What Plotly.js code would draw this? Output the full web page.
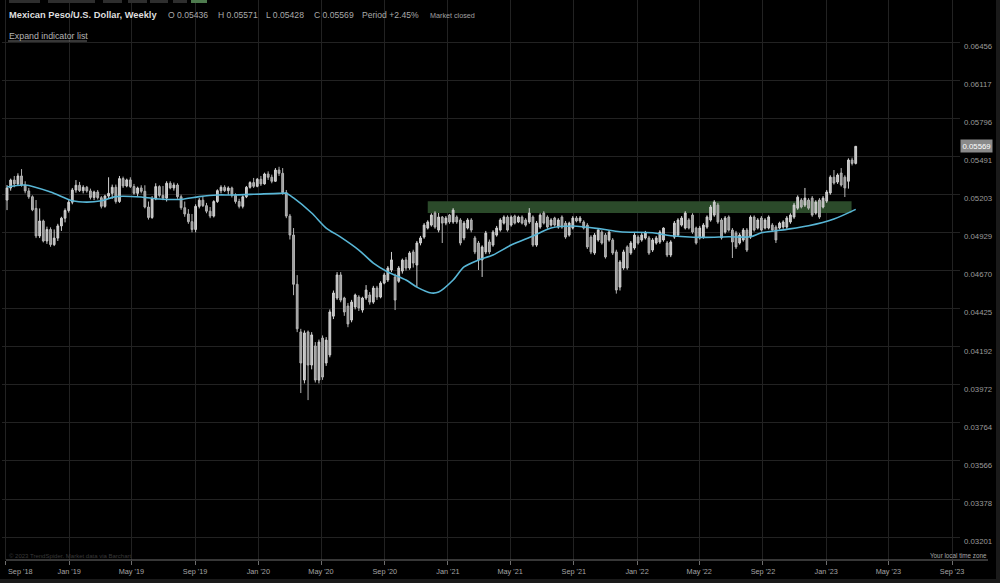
<!DOCTYPE html>
<html><head><meta charset="utf-8">
<script src="https://cdn.plot.ly/plotly-3.0.1.min.js"></script>
<style>
html,body{margin:0;padding:0;background:#1a1a1a;width:1000px;height:583px;overflow:hidden;}
#chart{position:absolute;left:0;top:0;width:996px;height:579px;background:#000;}
</style></head><body><div id="chart"></div>
<script>
// ---------------- DATA ----------------
const weeks = [
'2018-09-03','2018-09-10','2018-09-17','2018-09-24','2018-10-01','2018-10-08','2018-10-15','2018-10-22','2018-10-29','2018-11-05','2018-11-12','2018-11-19','2018-11-26','2018-12-03','2018-12-10','2018-12-17','2018-12-24','2018-12-31',
'2019-01-07','2019-01-14','2019-01-21','2019-01-28','2019-02-04','2019-02-11','2019-02-18','2019-02-25','2019-03-04','2019-03-11','2019-03-18','2019-03-25','2019-04-01','2019-04-08','2019-04-15','2019-04-22','2019-04-29','2019-05-06','2019-05-13','2019-05-20','2019-05-27','2019-06-03','2019-06-10','2019-06-17','2019-06-24','2019-07-01','2019-07-08','2019-07-15','2019-07-22','2019-07-29','2019-08-05','2019-08-12','2019-08-19','2019-08-26','2019-09-02','2019-09-09','2019-09-16','2019-09-23','2019-09-30','2019-10-07','2019-10-14','2019-10-21','2019-10-28','2019-11-04','2019-11-11','2019-11-18','2019-11-25','2019-12-02','2019-12-09','2019-12-16','2019-12-23','2019-12-30',
'2020-01-06','2020-01-13','2020-01-20','2020-01-27','2020-02-03','2020-02-10','2020-02-17','2020-02-24','2020-03-02','2020-03-09','2020-03-16','2020-03-23','2020-03-30','2020-04-06','2020-04-13','2020-04-20','2020-04-27','2020-05-04','2020-05-11','2020-05-18','2020-05-25','2020-06-01','2020-06-08','2020-06-15','2020-06-22','2020-06-29','2020-07-06','2020-07-13','2020-07-20','2020-07-27','2020-08-03','2020-08-10','2020-08-17','2020-08-24','2020-08-31','2020-09-07','2020-09-14','2020-09-21','2020-09-28','2020-10-05','2020-10-12','2020-10-19','2020-10-26','2020-11-02','2020-11-09','2020-11-16','2020-11-23','2020-11-30','2020-12-07','2020-12-14','2020-12-21','2020-12-28',
'2021-01-04','2021-01-11','2021-01-18','2021-01-25','2021-02-01','2021-02-08','2021-02-15','2021-02-22','2021-03-01','2021-03-08','2021-03-15','2021-03-22','2021-03-29','2021-04-05','2021-04-12','2021-04-19','2021-04-26','2021-05-03','2021-05-10','2021-05-17','2021-05-24','2021-05-31','2021-06-07','2021-06-14','2021-06-21','2021-06-28','2021-07-05','2021-07-12','2021-07-19','2021-07-26','2021-08-02','2021-08-09','2021-08-16','2021-08-23','2021-08-30','2021-09-06','2021-09-13','2021-09-20','2021-09-27','2021-10-04','2021-10-11','2021-10-18','2021-10-25','2021-11-01','2021-11-08','2021-11-15','2021-11-22','2021-11-29','2021-12-06','2021-12-13','2021-12-20','2021-12-27',
'2022-01-03','2022-01-10','2022-01-17','2022-01-24','2022-01-31','2022-02-07','2022-02-14','2022-02-21','2022-02-28','2022-03-07','2022-03-14','2022-03-21','2022-03-28','2022-04-04','2022-04-11','2022-04-18','2022-04-25','2022-05-02','2022-05-09','2022-05-16','2022-05-23','2022-05-30','2022-06-06','2022-06-13','2022-06-20','2022-06-27','2022-07-04','2022-07-11','2022-07-18','2022-07-25','2022-08-01','2022-08-08','2022-08-15','2022-08-22','2022-08-29','2022-09-05','2022-09-12','2022-09-19','2022-09-26','2022-10-03','2022-10-10','2022-10-17','2022-10-24','2022-10-31','2022-11-07','2022-11-14','2022-11-21','2022-11-28','2022-12-05','2022-12-12','2022-12-19','2022-12-26',
'2023-01-02','2023-01-09','2023-01-16','2023-01-23','2023-01-30','2023-02-06','2023-02-13','2023-02-20','2023-02-27'
];

const openV = [
0.05161,0.05250,0.05309,0.05280,0.05340,0.05272,0.05228,0.05185,0.05100,0.04905,
0.05010,0.04870,0.04950,0.04845,0.04890,0.04975,0.05030,0.05085,0.05145,0.05235,
0.05270,0.05230,0.05255,0.05228,0.05180,0.05220,0.05178,0.05115,0.05190,0.05210,
0.05255,0.05150,0.05320,0.05265,0.05310,0.05260,0.05210,0.05250,0.05225,0.05110,
0.05035,0.05170,0.05260,0.05195,0.05175,0.05285,0.05250,0.05272,0.05185,0.05105,
0.05060,0.05005,0.04950,0.05115,0.05160,0.05120,0.05080,0.05045,0.05150,0.05230,
0.05255,0.05230,0.05250,0.05195,0.05150,0.05115,0.05185,0.05255,0.05290,0.05262,
0.05315,0.05280,0.05355,0.05330,0.05300,0.05385,0.05360,0.05215,0.05045,0.04911,
0.04580,0.04281,0.03999,0.04281,0.04085,0.04197,0.03999,0.04244,0.04097,0.04144,
0.04378,0.04492,0.04641,0.04492,0.04441,0.04354,0.04435,0.04498,0.04416,0.04492,
0.04511,0.04466,0.04556,0.04498,0.04588,0.04608,0.04674,0.04628,0.04600,0.04667,
0.04741,0.04687,0.04795,0.04707,0.04856,0.04897,0.04960,0.04981,0.05067,0.04946,
0.05038,0.04995,0.05052,0.05003,0.05038,0.05017,0.04891,0.04960,0.05017,0.04891,
0.04856,0.04741,0.04795,0.04863,0.04842,0.04911,0.04946,0.04995,0.05038,0.04981,
0.05045,0.05003,0.05038,0.05017,0.05003,0.05038,0.04842,0.04967,0.05067,0.05038,
0.04981,0.05031,0.04967,0.05038,0.04995,0.04911,0.04960,0.05031,0.05010,0.05003,
0.04981,0.04897,0.04788,0.04877,0.04932,0.04911,0.04877,0.04877,0.04795,0.04562,
0.04687,0.04829,0.04788,0.04822,0.04897,0.04877,0.04891,0.04891,0.04808,0.04856,
0.04863,0.04877,0.04856,0.04774,0.04897,0.04911,0.04981,0.04960,0.05017,0.05052,
0.04960,0.04891,0.04897,0.04967,0.05017,0.05052,0.05124,0.05017,0.04932,0.05038,
0.04946,0.04925,0.04856,0.04877,0.04946,0.04897,0.05038,0.04960,0.05031,0.04960,
0.04960,0.04981,0.04967,0.04960,0.04967,0.04967,0.05003,0.05038,0.05102,0.05161,
0.05124,0.05161,0.05175,0.05067,0.05161,0.05110,0.05153,0.05213,0.05331,0.05294,
0.05362,0.05331,0.05300,0.05462,0.05436
];
const highV = [
0.05272,0.05320,0.05340,0.05360,0.05392,0.05300,0.05250,0.05195,0.05161,0.05100,
0.05020,0.04970,0.04965,0.04950,0.04990,0.05040,0.05100,0.05160,0.05250,0.05309,
0.05295,0.05270,0.05265,0.05245,0.05230,0.05235,0.05190,0.05200,0.05330,0.05275,
0.05275,0.05340,0.05335,0.05320,0.05330,0.05280,0.05260,0.05270,0.05270,0.05150,
0.05190,0.05285,0.05270,0.05265,0.05300,0.05300,0.05290,0.05285,0.05200,0.05150,
0.05095,0.05060,0.05130,0.05175,0.05185,0.05140,0.05110,0.05160,0.05240,0.05270,
0.05270,0.05262,0.05260,0.05210,0.05170,0.05195,0.05265,0.05300,0.05325,0.05325,
0.05340,0.05365,0.05375,0.05350,0.05400,0.05410,0.05400,0.05235,0.05060,0.04960,
0.04640,0.04300,0.04290,0.04290,0.04280,0.04220,0.04235,0.04260,0.04250,0.04420,
0.04540,0.04660,0.04660,0.04500,0.04460,0.04480,0.04520,0.04510,0.04500,0.04575,
0.04530,0.04570,0.04570,0.04600,0.04655,0.04700,0.04795,0.04650,0.04700,0.04750,
0.04760,0.04800,0.04810,0.04870,0.04905,0.04995,0.05015,0.05065,0.05080,0.05067,
0.05045,0.05045,0.05060,0.05102,0.05050,0.05030,0.05010,0.05030,0.05030,0.04905,
0.04870,0.04840,0.04940,0.04880,0.04945,0.04975,0.05030,0.05050,0.05050,0.05050,
0.05055,0.05048,0.05050,0.05030,0.05102,0.05050,0.05010,0.05065,0.05080,0.05050,
0.05030,0.05040,0.05030,0.05050,0.05010,0.05005,0.05045,0.05045,0.05045,0.05015,
0.04995,0.04910,0.04925,0.04960,0.04945,0.04925,0.04945,0.04890,0.04810,0.04740,
0.04810,0.04840,0.04870,0.04925,0.04910,0.04925,0.04940,0.04905,0.04890,0.04905,
0.04945,0.04965,0.04870,0.04875,0.05010,0.05030,0.05045,0.05080,0.05030,0.05065,
0.04970,0.04975,0.04995,0.05050,0.05125,0.05160,0.05140,0.05030,0.05045,0.05050,
0.04960,0.04940,0.04925,0.04960,0.04960,0.05050,0.05050,0.05030,0.05045,0.05030,
0.05050,0.04995,0.04980,0.05005,0.05015,0.05045,0.05065,0.05140,0.05195,0.05175,
0.05250,0.05175,0.05190,0.05160,0.05175,0.05190,0.05235,0.05345,0.05385,0.05360,
0.05400,0.05345,0.05475,0.05480,0.05571
];
const lowV = [
0.05088,0.05230,0.05255,0.05265,0.05260,0.05210,0.05170,0.05080,0.04890,0.04890,
0.04860,0.04850,0.04830,0.04835,0.04870,0.04940,0.05000,0.05070,0.05130,0.05215,
0.05220,0.05210,0.05215,0.05165,0.05160,0.05165,0.05100,0.05105,0.05170,0.05170,
0.05135,0.05140,0.05250,0.05255,0.05250,0.05200,0.05185,0.05210,0.05100,0.05020,
0.05025,0.05160,0.05180,0.05160,0.05150,0.05240,0.05230,0.05170,0.05090,0.05040,
0.04990,0.04930,0.04930,0.05100,0.05110,0.05065,0.05030,0.05035,0.05140,0.05210,
0.05220,0.05200,0.05180,0.05135,0.05100,0.05100,0.05175,0.05245,0.05250,0.05255,
0.05265,0.05275,0.05310,0.05285,0.05295,0.05340,0.05200,0.05030,0.04880,0.04510,
0.04280,0.03926,0.03980,0.03887,0.04060,0.03985,0.03980,0.04000,0.04080,0.04130,
0.04360,0.04480,0.04465,0.04380,0.04310,0.04340,0.04420,0.04410,0.04400,0.04480,
0.04450,0.04455,0.04480,0.04490,0.04580,0.04595,0.04660,0.04416,0.04590,0.04650,
0.04670,0.04675,0.04690,0.04562,0.04840,0.04885,0.04950,0.04970,0.04955,0.04930,
0.04856,0.04980,0.04990,0.04990,0.04990,0.04840,0.04875,0.04950,0.04930,0.04780,
0.04674,0.04628,0.04780,0.04780,0.04830,0.04900,0.04935,0.04985,0.04935,0.04970,
0.04985,0.04995,0.04985,0.04970,0.04990,0.04830,0.04830,0.04955,0.04985,0.04955,
0.04970,0.04970,0.04955,0.04955,0.04885,0.04900,0.04950,0.05000,0.04995,0.04950,
0.04815,0.04780,0.04775,0.04865,0.04845,0.04750,0.04865,0.04775,0.04520,0.04540,
0.04675,0.04675,0.04775,0.04810,0.04845,0.04865,0.04880,0.04775,0.04795,0.04845,
0.04850,0.04865,0.04760,0.04760,0.04885,0.04900,0.04970,0.04950,0.04950,0.04920,
0.04845,0.04880,0.04885,0.04955,0.05005,0.05040,0.04990,0.04880,0.04920,0.04935,
0.04754,0.04815,0.04845,0.04865,0.04795,0.04885,0.04935,0.04950,0.04935,0.04950,
0.04950,0.04935,0.04856,0.04950,0.04955,0.04955,0.04990,0.05025,0.05090,0.05100,
0.05110,0.05090,0.05040,0.05055,0.05025,0.05100,0.05140,0.05200,0.05275,0.05280,
0.05260,0.05183,0.05245,0.05420,0.05428
];
const closeV = [
0.05250,0.05309,0.05280,0.05340,0.05272,0.05228,0.05185,0.05090,0.04905,0.05010,
0.04870,0.04950,0.04845,0.04890,0.04975,0.05030,0.05085,0.05145,0.05235,0.05270,
0.05230,0.05255,0.05228,0.05180,0.05220,0.05178,0.05115,0.05190,0.05210,0.05255,
0.05150,0.05320,0.05265,0.05310,0.05260,0.05210,0.05250,0.05225,0.05110,0.05035,
0.05170,0.05260,0.05195,0.05175,0.05285,0.05250,0.05272,0.05185,0.05105,0.05060,
0.05005,0.04950,0.05115,0.05160,0.05120,0.05080,0.05045,0.05150,0.05230,0.05255,
0.05230,0.05250,0.05195,0.05150,0.05115,0.05185,0.05255,0.05290,0.05262,0.05315,
0.05280,0.05355,0.05330,0.05300,0.05385,0.05360,0.05215,0.05045,0.04911,0.04580,
0.04300,0.04097,0.04275,0.04085,0.04263,0.03999,0.04220,0.04016,0.04232,0.04404,
0.04524,0.04641,0.04479,0.04404,0.04330,0.04466,0.04511,0.04429,0.04492,0.04543,
0.04466,0.04556,0.04498,0.04588,0.04641,0.04687,0.04741,0.04479,0.04687,0.04740,
0.04687,0.04788,0.04720,0.04856,0.04891,0.04981,0.05003,0.05052,0.04967,0.05038,
0.04995,0.05031,0.05003,0.05088,0.05003,0.04856,0.04995,0.05017,0.04946,0.04795,
0.04741,0.04829,0.04925,0.04795,0.04932,0.04960,0.05017,0.05038,0.04946,0.05038,
0.04995,0.05038,0.04995,0.04981,0.05067,0.04842,0.04995,0.05052,0.04995,0.04967,
0.05017,0.04981,0.05017,0.04967,0.04897,0.04995,0.05031,0.05010,0.05031,0.04960,
0.04829,0.04795,0.04911,0.04946,0.04856,0.04761,0.04932,0.04788,0.04543,0.04727,
0.04795,0.04687,0.04856,0.04911,0.04856,0.04911,0.04925,0.04788,0.04877,0.04891,
0.04932,0.04960,0.04774,0.04863,0.04995,0.05017,0.05031,0.05067,0.04960,0.04932,
0.04856,0.04960,0.04981,0.05038,0.05110,0.05146,0.05003,0.04891,0.05031,0.04946,
0.04863,0.04829,0.04911,0.04946,0.04808,0.05038,0.04946,0.05017,0.04946,0.05017,
0.05038,0.04946,0.04877,0.04995,0.05003,0.05031,0.05052,0.05124,0.05182,0.05110,
0.05175,0.05102,0.05052,0.05146,0.05038,0.05175,0.05220,0.05331,0.05287,0.05347,
0.05272,0.05250,0.05462,0.05436,0.05569
];

// moving average
const maDates = ['2018-09-03','2018-10-08','2018-11-26','2019-01-07','2019-02-04','2019-03-04','2019-04-01','2019-05-20','2019-06-24','2019-08-05','2019-09-09','2019-10-14','2019-11-11','2019-12-23','2020-02-10','2020-02-24','2020-03-09','2020-04-13','2020-05-11','2020-06-08','2020-07-13','2020-08-10','2020-09-07','2020-10-12','2020-11-02','2020-11-30','2020-12-14','2021-01-11','2021-02-01','2021-03-01','2021-03-29','2021-05-03','2021-06-14','2021-07-19','2021-08-30','2021-10-25','2021-11-29','2022-01-31','2022-03-07','2022-05-09','2022-06-27','2022-08-08','2022-08-29','2022-10-17','2022-11-28','2023-01-16','2023-02-27'];
const maValues = [0.05257,0.05272,0.05220,0.05156,0.05146,0.05156,0.05186,0.05183,0.05168,0.05166,0.05186,0.05198,0.05198,0.05203,0.05210,0.05210,0.05176,0.05067,0.04960,0.04897,0.04808,0.04720,0.04661,0.04608,0.04562,0.04524,0.04530,0.04608,0.04694,0.04741,0.04774,0.04842,0.04904,0.04960,0.04974,0.04953,0.04934,0.04927,0.04906,0.04895,0.04899,0.04899,0.04927,0.04951,0.04976,0.05024,0.05093];

// resistance zone
const zoneDates = ['2020-11-23', '2023-02-19'];
const zoneLow = 0.05067, zoneHigh = 0.05152;

const yTickVals = [0.06456,0.06117,0.05796,0.05491,0.05203,0.04929,0.04670,0.04425,0.04192,0.03972,0.03764,0.03566,0.03378,0.03201];
const yTickText = ['0.06456','0.06117','0.05796','0.05491','0.05203','0.04929','0.04670','0.04425','0.04192','0.03972','0.03764','0.03566','0.03378','0.03201'];
const xTickVals = ['2018-09-01','2019-01-01','2019-05-01','2019-09-01','2020-01-01','2020-05-01','2020-09-01','2021-01-01','2021-05-01','2021-09-01','2022-01-01','2022-05-01','2022-09-01','2023-01-01','2023-05-01','2023-09-01'];
const xTickText = ["Sep '18","Jan '19","May '19","Sep '19","Jan '20","May '20","Sep '20","Jan '21","May '21","Sep '21","Jan '22","May '22","Sep '22","Jan '23","May '23","Sep '23"];

const title = 'Mexican Peso/U.S. Dollar, Weekly';

// ---------------- LAYOUT HELPERS ----------------
const W = 996, H = 579, ML = 2, MR = 36, MT = 0, MB = 19;
const PW = W - ML - MR, PH = H - MT - MB;
const px = x => (x - ML) / PW;
const py = y => (PH + MT - y) / PH;
const FONT = 'Liberation Sans, Arial, sans-serif';
const X_RANGE = ['2018-08-24 07:00', '2023-09-16 07:00'];
const Y_RANGE = [Math.log10(0.03099), Math.log10(0.06852)];

const n = closeV.length;
const lastO = openV[n-1], lastH = highV[n-1], lastL = lowV[n-1], lastC = closeV[n-1];
const period = (lastC / closeV[n-2] - 1) * 100;

// zone on base axes (drawn underneath), candles + MA on overlay axes (drawn on top)
const zone = {
  type: 'scatter', mode: 'lines', fill: 'toself', fillcolor: '#2b4a2a',
  x: [zoneDates[0], zoneDates[1], zoneDates[1], zoneDates[0], zoneDates[0]],
  y: [zoneLow, zoneLow, zoneHigh, zoneHigh, zoneLow],
  line: {width: 0, color: 'rgba(0,0,0,0)'}, hoverinfo: 'skip', showlegend: false,
  xaxis: 'x', yaxis: 'y'
};
const candle = {
  type: 'candlestick', x: weeks, open: openV, high: highV, low: lowV, close: closeV,
  increasing: {line: {color: '#d2d2d2', width: 1}, fillcolor: '#bdbdbd'},
  decreasing: {line: {color: '#b4b4b4', width: 1}, fillcolor: '#9a9a9a'},
  whiskerwidth: 0, hoverinfo: 'skip', showlegend: false,
  xaxis: 'x2', yaxis: 'y2'
};
const ma = {
  type: 'scatter', mode: 'lines', x: maDates, y: maValues,
  line: {color: '#58b6d6', width: 1.6, shape: 'spline', smoothing: 0.8},
  hoverinfo: 'skip', showlegend: false,
  xaxis: 'x2', yaxis: 'y2'
};

const ann = (text, x, y, size, color, anchor, extra) => Object.assign({
  text, xref: 'paper', yref: 'paper', x: px(x), y: py(y), xanchor: anchor || 'left', yanchor: 'middle',
  showarrow: false, font: {family: FONT, size, color}, borderpad: 0
}, extra || {});

const annotations = [
  ann('<b>' + title + '</b>', 8, 15, 9.3, '#dedede'),
  ann('O ' + lastO.toFixed(5), 167, 15, 8.6, '#a9a9a9'),
  ann('H ' + lastH.toFixed(5), 217, 15, 8.6, '#a9a9a9'),
  ann('L ' + lastL.toFixed(5), 265, 15, 8.6, '#a9a9a9'),
  ann('C ' + lastC.toFixed(5), 313, 15, 8.6, '#a9a9a9'),
  ann('Period +' + period.toFixed(2) + '%', 361, 15, 8.6, '#a9a9a9'),
  ann('Market closed', 429, 15, 7.2, '#a0a0a0'),
  ann('Expand indicator list', 8, 36, 8.8, '#b4b4b4'),
  ann('© 2023 TrendSpider. Market data via Barchart', 8, 556, 6, '#3a3a3a'),
  ann('Your local time zone', 988, 555, 6.3, '#a8a8a8', 'right'),
  ann(xTickText[0], 7, 571.5, 7.3, '#a4a4a4'),
  {text: lastC.toFixed(5), xref: 'paper', yref: 'y', x: 1, y: Math.log10(lastC), xanchor: 'left', yanchor: 'middle',
   showarrow: false, bgcolor: '#8a8a8a', borderpad: 1.5, font: {family: FONT, size: 7.8, color: '#ffffff'}}
];

const tabs = [[9,40,'#2e2e2e'],[48,95,'#2e2e2e'],[103,122,'#2e2e2e'],[128,147,'#2e2e2e'],[150,168,'#2e2e2e'],[173,187,'#2e2e2e'],[191,207,'#4e7b4e']];
const shapes = [
  {type: 'line', xref: 'paper', yref: 'paper', x0: px(6), x1: px(988), y0: 0, y1: 0, line: {color: '#6e6e6e', width: 1}},
  {type: 'line', xref: 'paper', yref: 'paper', x0: px(8), x1: px(87), y0: py(41), y1: py(41), line: {color: '#8a8a8a', width: 0.8}}
].concat(tabs.map(t => ({type: 'rect', xref: 'paper', yref: 'paper', x0: px(t[0]), x1: px(t[1]), y0: py(3), y1: py(0),
   fillcolor: t[2], line: {width: 0}})));

const layout = {
  width: W, height: H, margin: {l: ML, r: MR, t: MT, b: MB, pad: 0},
  paper_bgcolor: '#000000', plot_bgcolor: '#000000', showlegend: false, hovermode: false, dragmode: false,
  font: {family: FONT, color: '#a0a0a0'},
  xaxis: {
    type: 'date', range: X_RANGE,
    tickvals: xTickVals, ticktext: xTickText.map((t, i) => i === 0 ? '' : t),
    ticks: 'outside', ticklen: 4, tickcolor: '#6e6e6e', tickwidth: 1,
    tickfont: {family: FONT, size: 7.3, color: '#a4a4a4'},
    showgrid: true, gridcolor: '#222222', gridwidth: 1, zeroline: false, showline: false,
    rangeslider: {visible: false}, fixedrange: true
  },
  yaxis: {
    type: 'log', side: 'right', range: Y_RANGE,
    tickvals: yTickVals, ticktext: yTickText, ticks: '', ticklabelshift: 4, ticklabelstandoff: 3,
    tickfont: {family: FONT, size: 7.8, color: '#9a9a9a'},
    showgrid: true, gridcolor: '#222222', gridwidth: 1, zeroline: false, showline: false, fixedrange: true
  },
  xaxis2: {type: 'date', range: X_RANGE, overlaying: 'x', visible: false, showgrid: false, zeroline: false,
    rangeslider: {visible: false}, fixedrange: true},
  yaxis2: {type: 'log', range: Y_RANGE, overlaying: 'y', side: 'right', visible: false, showgrid: false,
    zeroline: false, fixedrange: true},
  shapes, annotations
};

Plotly.newPlot('chart', [zone, candle, ma], layout, {displayModeBar: false, staticPlot: true});
</script>
</body></html>
